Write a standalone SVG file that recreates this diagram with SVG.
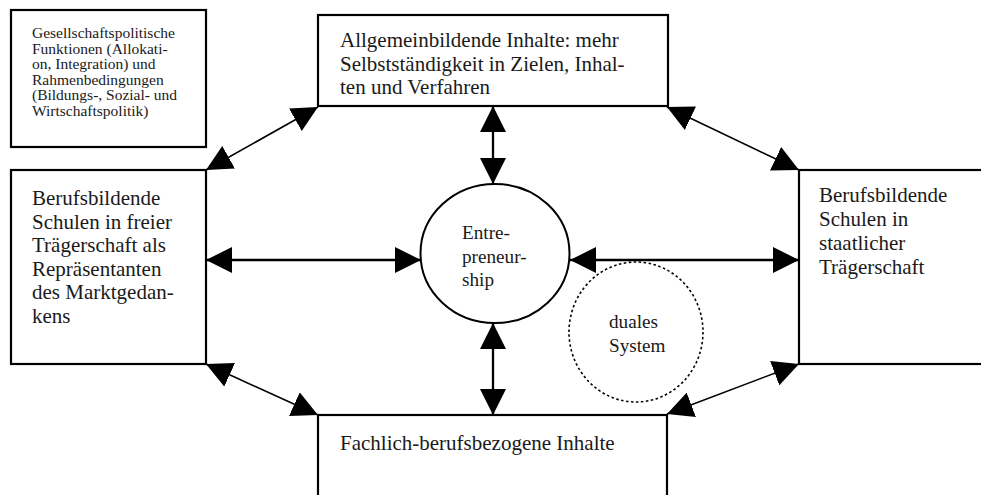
<svg xmlns="http://www.w3.org/2000/svg" width="981" height="495" viewBox="0 0 981 495">
<style>
.box{fill:#fff;stroke:#000;stroke-width:2.2}
text{font-family:'Liberation Serif','DejaVu Serif',serif;fill:#1a1a1a;font-size:21px}
.s{font-size:15.5px}
.m{font-size:19.2px}
.c{stroke:#000;fill:none}
.thick{stroke-width:2.3}
.thin{stroke-width:1.6}
</style>
<defs>
<marker id="ah" viewBox="0 0 26 26" refX="26" refY="13" markerWidth="26" markerHeight="26" markerUnits="userSpaceOnUse" orient="auto-start-reverse">
<path d="M0,0 L26,13 L0,26 z" fill="#000"/>
</marker>
</defs>
<rect width="981" height="495" fill="#fff"/>
<g id="gesellschaft">
<rect class="box" x="11" y="10" width="195" height="137"/>
<text class="s" font-family="Liberation Serif, serif"><tspan x="32" y="38">Gesellschaftspolitische</tspan><tspan x="32" y="53.5">Funktionen (Allokati-</tspan><tspan x="32" y="69">on, Integration) und</tspan><tspan x="32" y="84.5">Rahmenbedingungen</tspan><tspan x="32" y="100">(Bildungs-, Sozial- und</tspan><tspan x="32" y="115.5">Wirtschaftspolitik)</tspan></text>
</g>
<g id="allgemein">
<rect class="box" x="318" y="15" width="350" height="91"/>
<text font-family="Liberation Serif, serif"><tspan x="340" y="47">Allgemeinbildende Inhalte: mehr</tspan><tspan x="340" y="70.5">Selbstständigkeit in Zielen, Inhal-</tspan><tspan x="340" y="94">ten und Verfahren</tspan></text>
</g>
<g id="frei">
<rect class="box" x="11" y="170" width="195" height="194"/>
<text font-family="Liberation Serif, serif"><tspan x="32" y="205">Berufsbildende</tspan><tspan x="32" y="228.5">Schulen in freier</tspan><tspan x="32" y="252">Trägerschaft als</tspan><tspan x="32" y="275.5">Repräsentanten</tspan><tspan x="32" y="299">des Marktgedan-</tspan><tspan x="32" y="322.5">kens</tspan></text>
</g>
<g id="staatlich">
<rect class="box" x="799" y="170" width="200" height="194"/>
<text font-family="Liberation Serif, serif"><tspan x="819" y="202">Berufsbildende</tspan><tspan x="819" y="226">Schulen in</tspan><tspan x="819" y="250">staatlicher</tspan><tspan x="819" y="274">Trägerschaft</tspan></text>
</g>
<g id="fachlich">
<rect class="box" x="318" y="415" width="349" height="100"/>
<text font-family="Liberation Serif, serif" x="340" y="450">Fachlich-berufsbezogene Inhalte</text>
</g>
<g id="dual">
<ellipse cx="636" cy="332" rx="67" ry="70" fill="none" stroke="#000" stroke-width="1.6" stroke-dasharray="2.5,2.5"/>
<text class="m" font-family="Liberation Serif, serif"><tspan x="609" y="328">duales</tspan><tspan x="609" y="352">System</tspan></text>
</g>
<g id="entrepreneurship">
<ellipse cx="495" cy="253.5" rx="74.5" ry="69.5" fill="#fff" stroke="#000" stroke-width="2"/>
<text class="m" font-family="Liberation Serif, serif"><tspan x="462" y="239">Entre-</tspan><tspan x="462" y="262.5">preneur-</tspan><tspan x="462" y="286">ship</tspan></text>
</g>
<g id="connectors">
<line class="c thin" x1="206" y1="170" x2="318" y2="107" marker-start="url(#ah)" marker-end="url(#ah)"/>
<line class="c thin" x1="667" y1="107" x2="799" y2="170" marker-start="url(#ah)" marker-end="url(#ah)"/>
<line class="c thin" x1="206" y1="364" x2="318" y2="415" marker-start="url(#ah)" marker-end="url(#ah)"/>
<line class="c thin" x1="667" y1="414" x2="799" y2="364" marker-start="url(#ah)" marker-end="url(#ah)"/>
<line class="c thick" x1="493" y1="106" x2="493" y2="184" marker-start="url(#ah)" marker-end="url(#ah)"/>
<line class="c thick" x1="493" y1="323" x2="493" y2="415" marker-start="url(#ah)" marker-end="url(#ah)"/>
<line class="c thick" x1="206" y1="260" x2="421" y2="260" marker-start="url(#ah)" marker-end="url(#ah)"/>
<line class="c thick" x1="570" y1="260" x2="799" y2="260" marker-start="url(#ah)" marker-end="url(#ah)"/>
</g>
</svg>
